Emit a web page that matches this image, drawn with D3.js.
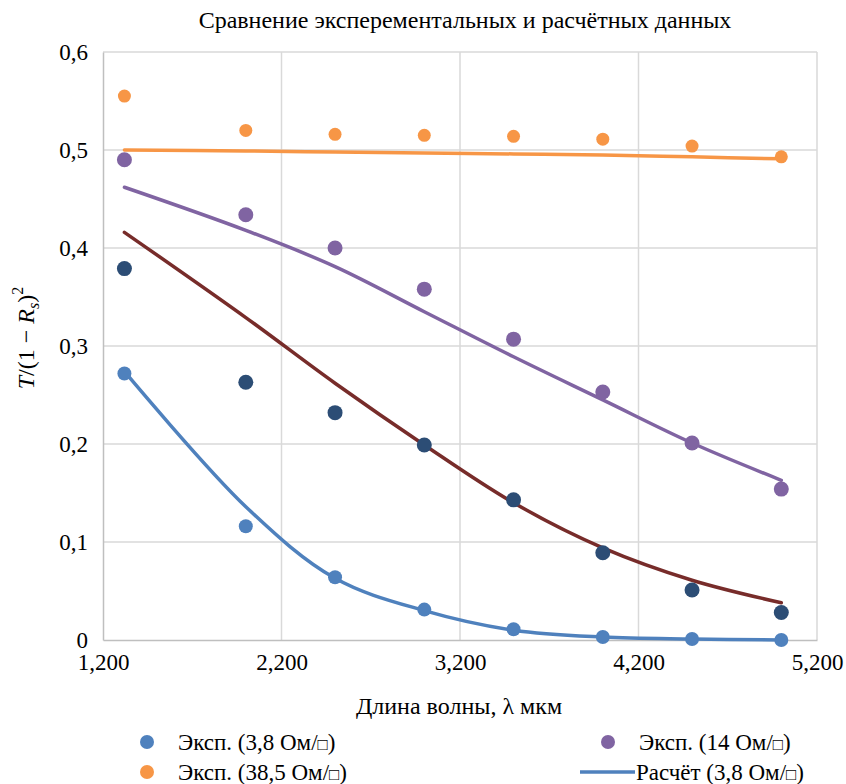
<!DOCTYPE html>
<html><head><meta charset="utf-8">
<script src="https://cdn.jsdelivr.net/npm/d3@7/dist/d3.min.js"></script>
<style>body{margin:0;background:#fff}</style>
</head><body>
<svg id="c" width="846" height="784"></svg>
<script>
const wavelengths = [1320, 2000, 2500, 3000, 3500, 4000, 4500, 5000];
const exp38 = [0.272, 0.116, 0.064, 0.031, 0.011, 0.003, 0.001, 0.000];
const exp385 = [0.555, 0.520, 0.516, 0.515, 0.514, 0.511, 0.504, 0.493];
const exp14 = [0.490, 0.434, 0.400, 0.358, 0.307, 0.253, 0.201, 0.154];
const expX = [0.379, 0.263, 0.232, 0.199, 0.143, 0.089, 0.051, 0.028];
const calc38 = [0.274, 0.136, 0.063, 0.030, 0.010, 0.003, 0.001, 0.000];
const calc385 = [0.500, 0.499, 0.498, 0.497, 0.496, 0.495, 0.493, 0.491];
const calc14 = [0.462, 0.418, 0.381, 0.335, 0.289, 0.245, 0.201, 0.163];
const calcX = [0.416, 0.329, 0.262, 0.199, 0.140, 0.094, 0.061, 0.038];
const xTicks = [1200, 2200, 3200, 4200, 5200];
const yTicks = [0, 0.1, 0.2, 0.3, 0.4, 0.5, 0.6];

const svg = d3.select("#c");
const font = "'Liberation Serif','Times New Roman',serif";
const x = d3.scaleLinear().domain([1200, 5200]).range([103, 817]);
const y = d3.scaleLinear().domain([0, 0.6]).range([640, 52]);
const fmtX = v => d3.format(",")(v);
const fmtY = v => v === 0 ? "0" : d3.format(".1f")(v).replace(".", ",");

// grid
svg.append("g").selectAll("line").data(yTicks.filter(d => d > 0)).join("line")
  .attr("x1", x(1200)).attr("x2", x(5200)).attr("y1", d => y(d)).attr("y2", d => y(d))
  .attr("stroke", "#d9d9d9").attr("stroke-width", 1.5);
svg.append("g").selectAll("line").data(xTicks.filter(d => d > 1200)).join("line")
  .attr("x1", d => x(d)).attr("x2", d => x(d)).attr("y1", y(0)).attr("y2", y(0.6))
  .attr("stroke", "#d9d9d9").attr("stroke-width", 1.5);

// axes
const xa = svg.append("g").attr("transform", `translate(0,${y(0)})`)
  .call(d3.axisBottom(x).tickValues(xTicks).tickFormat(fmtX).tickSize(0).tickPadding(14));
const ya = svg.append("g").attr("transform", `translate(${x(1200)},0)`)
  .call(d3.axisLeft(y).tickValues(yTicks).tickFormat(fmtY).tickSize(0).tickPadding(15));
[xa, ya].forEach(a => {
  a.attr("font-family", font).attr("font-size", 23);
  a.select(".domain").attr("stroke", "#bfbfbf").attr("stroke-width", 1.5);
  a.selectAll("text").attr("fill", "#000");
});
xa.selectAll("text").attr("dy", "0.71em");

// lines
const line = d3.line().x((d, i) => x(wavelengths[i])).y(d => y(d)).curve(d3.curveCatmullRom.alpha(0.5));
const lines = [[calc385, "#F79646"], [calc14, "#8064A2"], [calcX, "#772C2A"], [calc38, "#4F81BD"]];
lines.forEach(([data, col]) => {
  svg.append("path").attr("d", line(data)).attr("fill", "none").attr("stroke", col)
    .attr("stroke-width", 3.5).attr("stroke-linecap", "round");
});

// points
const pts = [[exp385, "#F79646", 6.5], [exp14, "#8064A2", 7.5], [expX, "#2C4D75", 7.5], [exp38, "#4F81BD", 7]];
pts.forEach(([data, col, r]) => {
  svg.append("g").selectAll("circle").data(data).join("circle")
    .attr("cx", (d, i) => x(wavelengths[i])).attr("cy", d => y(d)).attr("r", r).attr("fill", col);
});

// title
svg.append("text").attr("x", 465).attr("y", 28).attr("text-anchor", "middle")
  .attr("font-family", font).attr("font-size", 24).text("Сравнение эксперементальных и расчётных данных");

// x label
svg.append("text").attr("x", 459).attr("y", 714).attr("text-anchor", "middle")
  .attr("font-family", font).attr("font-size", 24).text("Длина волны, λ мкм");

// y label
const yl = svg.append("text").attr("transform", "translate(34,338) rotate(-90)").attr("text-anchor", "middle")
  .attr("font-family", font).attr("font-size", 24);
yl.append("tspan").attr("font-style", "italic").text("T");
yl.append("tspan").text("/(1 − ");
yl.append("tspan").attr("font-style", "italic").text("R");
yl.append("tspan").attr("font-style", "italic").attr("font-size", 16).attr("dy", 5).text("s");
yl.append("tspan").attr("dy", -5).text(")");
yl.append("tspan").attr("font-size", 16).attr("dy", -11).text("2");

// legend
const legend = [
  {type: "dot", col: "#4F81BD", pre: "Эксп. (3,8 Ом/", x: 147, y: 742},
  {type: "dot", col: "#8064A2", pre: "Эксп. (14 Ом/", x: 608, y: 742},
  {type: "dot", col: "#F79646", pre: "Эксп. (38,5 Ом/", x: 147, y: 772},
  {type: "line", col: "#4F81BD", pre: "Расчёт (3,8 Ом/", x: 608, y: 772}
];
legend.forEach(l => {
  if (l.type === "dot") {
    svg.append("circle").attr("cx", l.x).attr("cy", l.y).attr("r", 7).attr("fill", l.col);
  } else {
    svg.append("line").attr("x1", l.x - 28).attr("x2", l.x + 27).attr("y1", l.y).attr("y2", l.y)
      .attr("stroke", l.col).attr("stroke-width", 3.5);
  }
  const t = svg.append("text").attr("x", l.type === "dot" ? l.x + 31 : l.x + 28).attr("y", l.y + 8)
    .attr("font-family", font).attr("font-size", 23);
  t.append("tspan").text(l.pre);
  t.append("tspan").attr("font-size", 17).text("□");
  t.append("tspan").text(")");
});
</script>
</body></html>
